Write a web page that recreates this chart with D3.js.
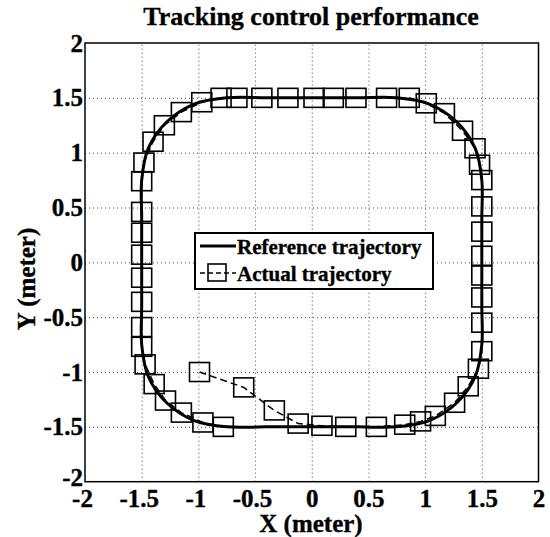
<!DOCTYPE html>
<html lang="en">
<head>
    <meta charset="UTF-8">
    <title>Tracking control performance</title>
    <style>
        body { margin: 0; background: #fff; }
        svg { display: block; font-family: "Liberation Serif", "Times New Roman", serif; font-weight: bold; }
        .grid line { stroke: #444; stroke-width: 1; stroke-dasharray: 1,3; }
        .grid path { display: none; }
        .ticks path { display: none; }
        text { stroke: #000; stroke-width: 0.35px; }
    </style>
</head>
<body>
    <div id="chart"></div>
    <script src="https://d3js.org/d3.v7.min.js"></script>
    <script>
        // tick values for both axes
        const xTicks = [-2, -1.5, -1, -0.5, 0, 0.5, 1, 1.5, 2];
        const yTicks = [-2, -1.5, -1, -0.5, 0, 0.5, 1, 1.5, 2];

        // reference trajectory (rounded square)
        const refX = [0, 0.4, 0.75, 1.037, 1.28, 1.443, 1.5, 1.5, 1.5, 1.5, 1.5, 1.443, 1.28, 1.037, 0.75, 0.4, 0, -0.4, -0.75, -1.037, -1.28, -1.443, -1.5, -1.5, -1.5, -1.5, -1.5, -1.443, -1.28, -1.037, -0.75, -0.4];
        const refY = [-1.5, -1.5, -1.5, -1.443, -1.28, -1.037, -0.75, -0.4, 0, 0.4, 0.75, 1.037, 1.28, 1.443, 1.5, 1.5, 1.5, 1.5, 1.5, 1.443, 1.28, 1.037, 0.75, 0.4, 0, -0.4, -0.75, -1.037, -1.28, -1.443, -1.5, -1.5];

        // actual trajectory samples (square markers)
        const actX = [-0.99, -0.60, -0.33, -0.12, 0.09, 0.30, 0.57, 0.82, 0.96, 1.09, 1.26, 1.38, 1.47,
                      1.50, 1.50, 1.50, 1.50, 1.50, 1.50, 1.50, 1.50,
                      1.48, 1.44, 1.33, 1.17, 1.01,
                      0.86, 0.66, 0.39, 0.19, 0.02, -0.21, -0.44, -0.66, -0.80,
                      -0.97, -1.15, -1.30, -1.40, -1.48,
                      -1.50, -1.50, -1.50, -1.50, -1.50, -1.50, -1.50, -1.50,
                      -1.47, -1.39, -1.29, -1.15, -0.96, -0.78];
        const actY = [-1.00, -1.14, -1.35, -1.47, -1.49, -1.50, -1.50, -1.48, -1.45, -1.40, -1.28, -1.13, -0.97,
                      -0.81, -0.55, -0.32, -0.12, 0.06, 0.28, 0.51, 0.75,
                      0.89, 1.04, 1.20, 1.36, 1.45,
                      1.50, 1.50, 1.50, 1.50, 1.50, 1.50, 1.50, 1.50, 1.50,
                      1.46, 1.37, 1.25, 1.10, 0.91,
                      0.74, 0.46, 0.27, 0.07, -0.14, -0.36, -0.59, -0.77,
                      -0.93, -1.11, -1.26, -1.37, -1.46, -1.50];

        const legendLabels = ["Reference trajectory", "Actual trajectory"];

        const W = 550, H = 537;
        const plot = { left: 85, right: 538.5, top: 43, bottom: 481.7 };
        const serif = '"Liberation Serif", "Times New Roman", serif';

        const svg = d3.select("#chart").append("svg")
            .attr("width", W)
            .attr("height", H);

        const x = d3.scaleLinear().domain([-2, 2]).range([plot.left, plot.right]);
        const y = d3.scaleLinear().domain([-2, 2]).range([plot.bottom, plot.top]);

        // dotted grid
        svg.append("g")
            .attr("class", "grid")
            .attr("transform", `translate(0,${plot.bottom})`)
            .call(d3.axisBottom(x).tickValues(xTicks.slice(1, -1)).tickSize(-(plot.bottom - plot.top)).tickFormat(""));
        svg.append("g")
            .attr("class", "grid")
            .attr("transform", `translate(${plot.left},0)`)
            .call(d3.axisLeft(y).tickValues(yTicks.slice(1, -1)).tickSize(-(plot.right - plot.left)).tickFormat(""));

        // tick labels (plain hyphen for minus, as in the original)
        const fmt = d => String(d);
        const xAxis = svg.append("g")
            .attr("class", "ticks")
            .attr("transform", `translate(0,${plot.bottom})`)
            .call(d3.axisBottom(x).tickValues(xTicks).tickSize(0).tickPadding(8).tickFormat(fmt));
        const yAxis = svg.append("g")
            .attr("class", "ticks")
            .attr("transform", `translate(${plot.left},0)`)
            .call(d3.axisLeft(y).tickValues(yTicks).tickSize(0).tickPadding(2).tickFormat(fmt));
        [xAxis, yAxis].forEach(g => g
            .attr("font-family", serif)
            .attr("font-size", 25)
            .attr("font-weight", "bold"));
        xAxis.selectAll(".tick text").attr("dx", d => d < 0 ? "-0.12em" : 0);
        yAxis.selectAll(".tick text").filter(d => d === -2).attr("dy", "0.15em");

        // reference trajectory
        const refPts = refX.map((v, i) => [v, refY[i]]);
        svg.append("path")
            .datum(refPts)
            .attr("fill", "none")
            .attr("stroke", "#000")
            .attr("stroke-width", 3)
            .attr("d", d3.line()
                .x(d => x(d[0]))
                .y(d => y(d[1]))
                .curve(d3.curveCatmullRomClosed.alpha(0.5)));

        // actual trajectory
        const actPts = actX.map((v, i) => [v, actY[i]]);
        svg.append("path")
            .datum(actPts)
            .attr("fill", "none")
            .attr("stroke", "#000")
            .attr("stroke-width", 1.5)
            .attr("stroke-dasharray", "7,4")
            .attr("d", d3.line().x(d => x(d[0])).y(d => y(d[1])));

        svg.append("g").selectAll("rect")
            .data(actPts)
            .join("rect")
            .attr("x", d => x(d[0]) - 10)
            .attr("y", d => y(d[1]) - 9.5)
            .attr("width", 20)
            .attr("height", 19)
            .attr("fill", "none")
            .attr("stroke", "#000")
            .attr("stroke-width", 1.6);

        // axes box
        svg.append("rect")
            .attr("x", plot.left)
            .attr("y", plot.top)
            .attr("width", plot.right - plot.left)
            .attr("height", plot.bottom - plot.top)
            .attr("fill", "none")
            .attr("stroke", "#000")
            .attr("stroke-width", 1.5);

        // legend
        const lg = svg.append("g").attr("transform", "translate(195,233)");
        lg.append("rect")
            .attr("width", 238)
            .attr("height", 56)
            .attr("fill", "#fff")
            .attr("stroke", "#000")
            .attr("stroke-width", 2);
        lg.append("line")
            .attr("x1", 5).attr("x2", 41).attr("y1", 13).attr("y2", 13)
            .attr("stroke", "#000").attr("stroke-width", 3);
        lg.append("line")
            .attr("x1", 5).attr("x2", 41).attr("y1", 40).attr("y2", 40)
            .attr("stroke", "#000").attr("stroke-width", 1.5).attr("stroke-dasharray", "5,3");
        lg.append("rect")
            .attr("x", 13).attr("y", 31).attr("width", 18).attr("height", 17)
            .attr("fill", "none").attr("stroke", "#000").attr("stroke-width", 1.6);
        lg.selectAll("text.lab")
            .data(legendLabels)
            .join("text")
            .attr("class", "lab")
            .attr("x", 42)
            .attr("y", (d, i) => 21 + i * 27)
            .attr("font-size", 21)
            .text(d => d);

        // title and axis labels
        svg.append("text")
            .attr("x", 311)
            .attr("y", 25)
            .attr("text-anchor", "middle")
            .attr("font-size", 26)
            .text("Tracking control performance");

        svg.append("text")
            .attr("x", 311)
            .attr("y", 532)
            .attr("text-anchor", "middle")
            .attr("font-size", 25)
            .text("X (meter)");

        svg.append("text")
            .attr("transform", "translate(35,279) rotate(-90)")
            .attr("text-anchor", "middle")
            .attr("font-size", 25)
            .text("Y (meter)");
    </script>
</body>
</html>
